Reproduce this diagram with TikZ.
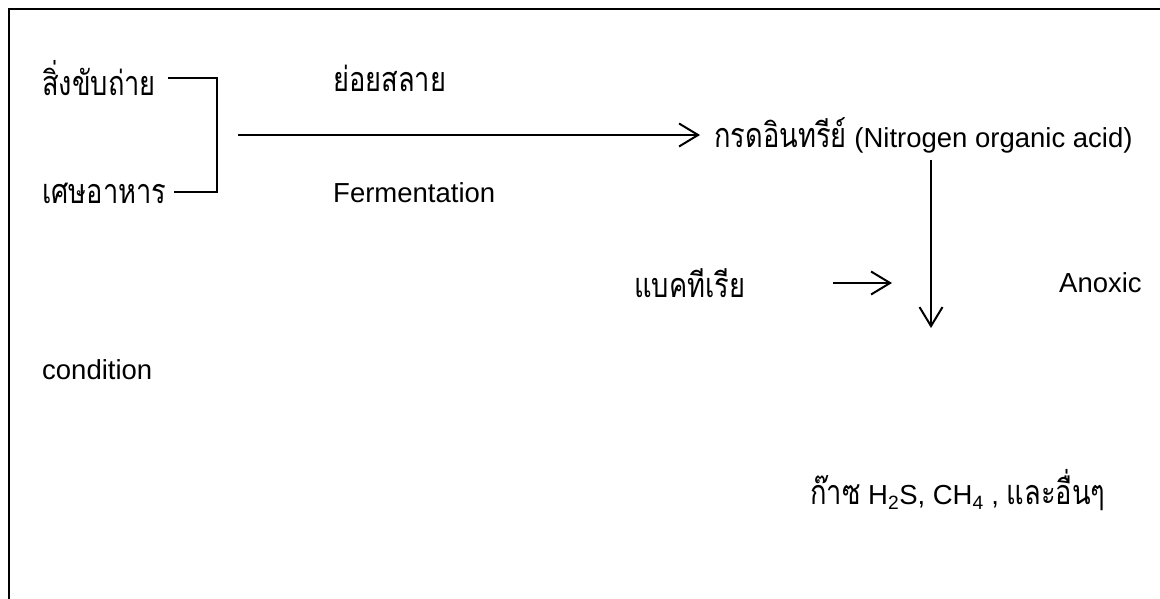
\documentclass[tikz,border=0pt]{standalone}
\usepackage{fontspec}
\setmainfont{Liberation Sans}
\newfontfamily\thai[Script=Thai,FakeStretch=0.8,Scale=1.24]{Loma}
\usetikzlibrary{arrows.meta}
\begin{document}
\begin{tikzpicture}[x=1pt,y=-1pt,
  lbl/.style={inner sep=0pt, anchor=west, font=\fontsize{27.5}{32}\selectfont},
  ln/.style={line width=2pt, black},
  arr/.style={ln, -{Straight Barb[length=19pt,width=23pt,line width=2pt]}},
  frame/.style={line width=2.6pt, black}]
\useasboundingbox (0,0) rectangle (1160,599);
% frame
\coordinate (f0) at (9,599);
\coordinate (f1) at (9,9);
\coordinate (f2) at (1160,9);
\draw[frame] (f0) -- (f1) -- (f2);
% labels
\node[lbl] (s1) at (42,78) {\thai สิ่งขับถ่าย};
\node[lbl] (s2) at (42,193) {\thai เศษอาหาร};
\node[lbl] (dec) at (333,78) {\thai ย่อยสลาย};
\node[lbl] (fer) at (333,193) {Fermentation};
\node[lbl] (acid) at (714,135) {{\thai กรดอินทรีย์} (Nitrogen organic acid)};
\node[lbl] (bac) at (634,283) {\thai แบคทีเรีย};
\node[lbl] (anx) at (1059,283) {Anoxic};
\node[lbl] (cond) at (42,370) {condition};
\node[lbl] (gas) at (810,490) {{\thai ก๊าซ} H\textsubscript{2}S, CH\textsubscript{4} , {\thai และอื่นๆ}};
% bracket
\coordinate (b1) at (168,78);
\coordinate (b2) at (217,78);
\coordinate (b3) at (217,192);
\coordinate (b4) at (174,192);
\draw[ln] (b1) -- (b2) -- (b3) -- (b4);
% main arrow
\coordinate (a0) at (238,135);
\draw[arr] (a0) -- ([xshift=-14pt]acid.west);
% vertical arrow
\coordinate (v0) at (931,160);
\coordinate (v1) at (931,328);
\draw[arr] (v0) -- (v1);
% short arrow
\coordinate (h0) at (833,283);
\coordinate (h1) at (892,283);
\draw[arr] (h0) -- (h1);
\end{tikzpicture}
\end{document}
